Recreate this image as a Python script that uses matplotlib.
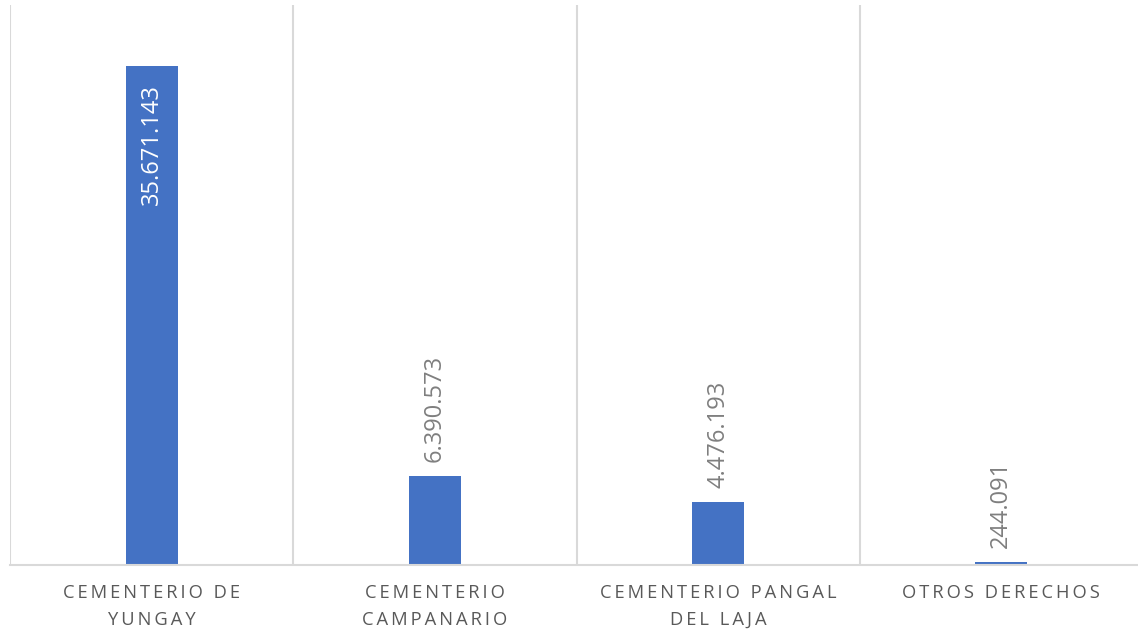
import numpy as np
from matplotlib import pyplot as plt

categorias = ["CEMENTERIO DE\nYUNGAY", "CEMENTERIO\nCAMPANARIO",
              "CEMENTERIO PANGAL\nDEL LAJA", "OTROS DERECHOS"]
montos = [35671143, 6390573, 4476193, 244091]
etiquetas = ["35.671.143", "6.390.573", "4.476.193", "244.091"]

AZUL = "#4472C4"
GRIS_TEXTO = "#595959"
GRIS_VALOR = "#7F7F7F"
GRIS_LINEA = "#D9D9D9"

plt.rcParams['font.family'] = ['Open Sans', 'DejaVu Sans']


def espaciado(texto):
    # separa las letras con un espacio fino para imitar el tracking
    return "\n".join("\u2009".join(linea) for linea in texto.split("\n"))


fig = plt.figure(figsize=(11.38, 6.31), dpi=100)
ax = fig.add_axes([10 / 1138, 66 / 631, 1133 / 1138, 560 / 631])

x = np.arange(len(categorias))
barras = ax.bar(x, montos, width=0.183, color=AZUL, zorder=3)

ax.set_ylim(0, 40000000)
ax.set_xlim(-0.5, len(categorias) - 0.5)

for borde in np.arange(len(categorias) + 1) - 0.5:
    ax.axvline(borde, color=GRIS_LINEA, lw=1.5, zorder=1)

for i, (valor, texto) in enumerate(zip(montos, etiquetas)):
    if i == 0:
        ax.annotate(texto, (x[i], valor), xytext=(0, -13), textcoords="offset points",
                    rotation=90, ha="center", va="top", color="white", fontsize=17)
    else:
        ax.annotate(texto, (x[i], valor), xytext=(0, 10), textcoords="offset points",
                    rotation=90, ha="center", va="bottom", color=GRIS_VALOR, fontsize=17)

ax.set_xticks(x)
ax.set_xticklabels([espaciado(c) for c in categorias], color=GRIS_TEXTO,
                   fontsize=13.2, linespacing=1.6)
ax.tick_params(axis="x", length=0, pad=14)
ax.set_yticks([])

for lado in ["top", "left", "right"]:
    ax.spines[lado].set_visible(False)
ax.spines["bottom"].set_color(GRIS_LINEA)
ax.spines["bottom"].set_linewidth(1.5)
ax.spines["bottom"].set_zorder(4)

fig.savefig("out.png", dpi=100)
